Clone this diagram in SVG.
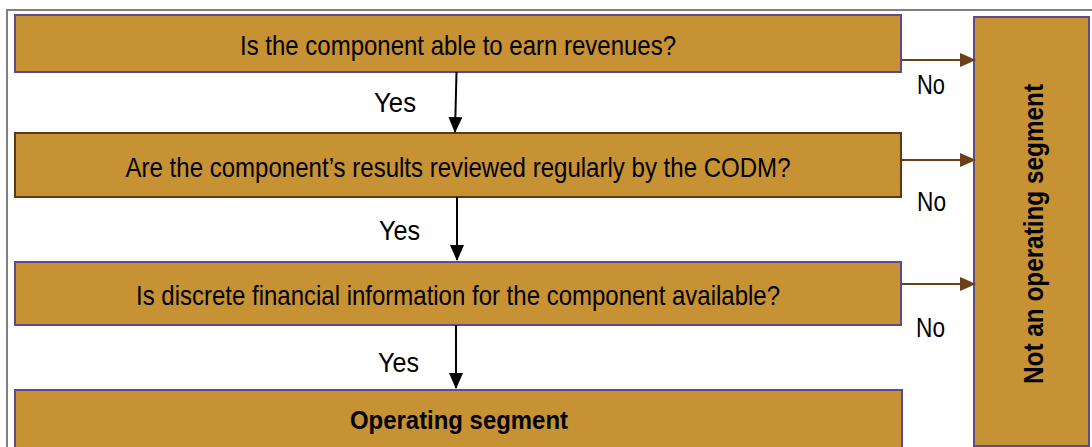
<svg xmlns="http://www.w3.org/2000/svg" width="1092" height="447" viewBox="0 0 1092 447">
  <defs>
    <style>
      .box { fill: #c79233; stroke-width: 2; }
      .purple { stroke: #5f4b8b; }
      .brown { stroke: #5c3a17; }
      .q { font-family: "Liberation Sans", Arial, sans-serif; font-size: 28px; fill: #000; text-anchor: middle; }
      .bold { font-family: "Liberation Sans", Arial, sans-serif; font-weight: bold; fill: #000; text-anchor: middle; }
      .lbl { font-family: "Liberation Sans", Arial, sans-serif; font-size: 27px; fill: #000; }
      .no { stroke: #6b3f17; stroke-width: 2; fill: none; }
      .yes { stroke: #000; stroke-width: 2; fill: none; }
    </style>
    <marker id="headBrown" viewBox="0 0 16 14" refX="15" refY="7" markerWidth="16" markerHeight="14" markerUnits="userSpaceOnUse" orient="auto">
      <path d="M0,0 L16,7 L0,14 Z" fill="#6b3f17"/>
    </marker>
    <marker id="headBlack" viewBox="0 0 16 14" refX="15" refY="7" markerWidth="16" markerHeight="14" markerUnits="userSpaceOnUse" orient="auto">
      <path d="M0,0 L16,7 L0,14 Z" fill="#000"/>
    </marker>
  </defs>

  <rect width="1092" height="447" fill="#fff"/>
  <!-- outer frame, open to the right and bottom -->
  <path d="M7,448 L7,10 L1093,10" fill="none" stroke="#808080" stroke-width="2"/>

  <g id="q-revenues">
    <rect class="box purple" x="15" y="15" width="886" height="57"/>
    <text class="q" x="458" y="55" textLength="436" lengthAdjust="spacingAndGlyphs">Is the component able to earn revenues?</text>
  </g>

  <g id="q-codm">
    <rect class="box brown" x="15" y="133" width="886" height="64"/>
    <text class="q" x="458" y="177" textLength="665" lengthAdjust="spacingAndGlyphs">Are the component’s results reviewed regularly by the CODM?</text>
  </g>

  <g id="q-discrete">
    <rect class="box purple" x="15" y="262" width="886" height="63"/>
    <text class="q" x="458" y="305" textLength="644" lengthAdjust="spacingAndGlyphs">Is discrete financial information for the component available?</text>
  </g>

  <g id="operating-segment">
    <rect class="box purple" x="15" y="390" width="887" height="70"/>
    <text class="bold" x="459" y="429" font-size="26" textLength="218" lengthAdjust="spacingAndGlyphs">Operating segment</text>
  </g>

  <g id="not-operating-segment">
    <rect class="box purple" x="974" y="17" width="115" height="429"/>
    <text class="bold" transform="translate(1043,234) rotate(-90)" x="0" y="0" font-size="28" textLength="300" lengthAdjust="spacingAndGlyphs">Not an operating segment</text>
  </g>

  <g id="connectors">
    <line class="yes" x1="456.5" y1="72" x2="455" y2="132" marker-end="url(#headBlack)"/>
    <line class="yes" x1="457" y1="197" x2="457" y2="260" marker-end="url(#headBlack)"/>
    <line class="yes" x1="456" y1="325" x2="456" y2="388" marker-end="url(#headBlack)"/>
    <line class="no" x1="902" y1="60" x2="975" y2="60" marker-end="url(#headBrown)"/>
    <line class="no" x1="902" y1="160" x2="975" y2="160" marker-end="url(#headBrown)"/>
    <line class="no" x1="902" y1="284" x2="975" y2="284" marker-end="url(#headBrown)"/>

    <text class="lbl" x="374" y="112" textLength="42" lengthAdjust="spacingAndGlyphs">Yes</text>
    <text class="lbl" x="379" y="240" textLength="41" lengthAdjust="spacingAndGlyphs">Yes</text>
    <text class="lbl" x="378" y="372" textLength="41" lengthAdjust="spacingAndGlyphs">Yes</text>
    <text class="lbl" x="917" y="94" textLength="28" lengthAdjust="spacingAndGlyphs">No</text>
    <text class="lbl" x="917" y="211" textLength="29" lengthAdjust="spacingAndGlyphs">No</text>
    <text class="lbl" x="916" y="337" textLength="29" lengthAdjust="spacingAndGlyphs">No</text>
  </g>
</svg>
